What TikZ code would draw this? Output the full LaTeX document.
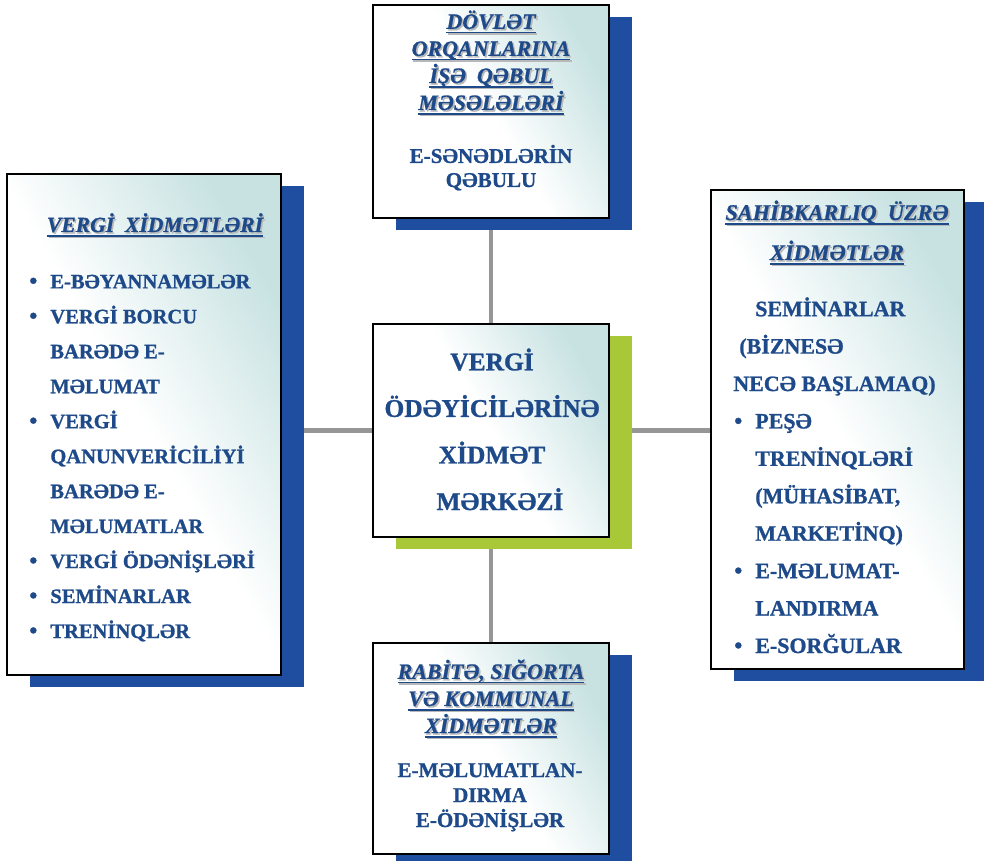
\documentclass[tikz,border=0pt]{standalone}
\usepackage{fontspec}
\setmainfont{Liberation Serif}[BoldFeatures={FakeBold=1}, BoldItalicFeatures={FakeBold=1}]
\usetikzlibrary{shadows,backgrounds}
\definecolor{txtblue}{RGB}{30,74,138}
\definecolor{shadowblue}{RGB}{31,78,160}
\definecolor{shadowgreen}{RGB}{168,200,56}
\definecolor{boxteal}{RGB}{200,226,226}
\definecolor{linkgray}{RGB}{150,150,150}
\newcommand{\ulin}[1]{\setbox0=\hbox{#1}%
  \rlap{\kern0.9pt\raisebox{-0.9pt}{\color{black!28}\rlap{\rule[-2.6pt]{\wd0}{0.9pt}}\copy0}}%
  \rlap{\rule[-2.6pt]{\wd0}{0.9pt}}\box0}
\newcommand{\blt}{\llap{{\fontsize{13}{13}\selectfont\textbullet}\hspace{7.4pt}}}
\tikzset{
  svcbox/.style={draw=black, line width=1.2pt, inner sep=0pt,
    top color=boxteal, bottom color=white, middle color=white, shading angle=-60,
    drop shadow={shadow xshift=0.46cm, shadow yshift=-0.24cm, fill=#1, opacity=1}},
  svcbox/.default=shadowblue,
  ttl/.style 2 args={text=txtblue, align=center, inner sep=0pt, font=\bfseries\itshape\fontsize{#1}{#2}\selectfont},
  txt/.style 2 args={text=txtblue, inner sep=0pt, font=\bfseries\fontsize{#1}{#2}\selectfont},
  link/.style={draw=linkgray, line width=2.3pt}
}
\begin{document}
\begin{tikzpicture}[x=0.02cm, y=-0.02cm]
  \useasboundingbox (0,0) rectangle (984,861);
  \node [svcbox, minimum width=4.72cm, minimum height=4.26cm] (dovlet) at (491,111.5) {};
  \node [svcbox, minimum width=5.48cm, minimum height=10.02cm] (vergi) at (144,424.5) {};
  \node [svcbox, minimum width=5.06cm, minimum height=9.58cm] (sahib) at (837.5,429.5) {};
  \node [svcbox=shadowgreen, minimum width=4.72cm, minimum height=4.26cm] (merkez) at (491,430.5) {};
  \node [svcbox, minimum width=4.72cm, minimum height=4.22cm] (rabite) at (491,748.5) {};

  \node [ttl={12.5}{15.4}, anchor=base] (dovlet-t) at (491,110) {\ulin{DÖVLƏT}\\\ulin{ORQANLARINA}\\\ulin{İŞƏ\ \ QƏBUL}\\\ulin{MƏSƏLƏLƏRİ}};
  \node [txt={12}{13.7}, align=center, anchor=base] (dovlet-b) at (491,187) {E-SƏNƏDLƏRİN\\QƏBULU};

  \node [ttl={12.3}{15}, anchor=base] (vergi-t) at (155,232) {\ulin{VERGİ\ \ XİDMƏTLƏRİ}};
  \node [txt={11.7}{19.9}, align=left, anchor=base west] (vergi-b) at (50,638) {\blt E-BƏYANNAMƏLƏR\\\blt VERGİ BORCU\\BARƏDƏ E-\\MƏLUMAT\\\blt VERGİ\\QANUNVERİCİLİYİ\\BARƏDƏ E-\\MƏLUMATLAR\\\blt VERGİ ÖDƏNİŞLƏRİ\\\blt SEMİNARLAR\\\blt TRENİNQLƏR};

  \node [ttl={12.7}{22.8}, anchor=base] (sahib-t) at (837,260) {\ulin{SAHİBKARLIQ\ \ ÜZRƏ}\\\ulin{XİDMƏTLƏR}};
  \node [txt={12.5}{21.3}, align=left, anchor=base west] (sahib-b) at (733,653) {\hspace*{12.5pt}SEMİNARLAR\\\hspace*{3.4pt}(BİZNESƏ\\NECƏ BAŞLAMAQ)\\\hspace*{12.5pt}\blt PEŞƏ\\\hspace*{12.5pt}TRENİNQLƏRİ\\\hspace*{12.5pt}(MÜHASİBAT,\\\hspace*{12.5pt}MARKETİNQ)\\\hspace*{12.5pt}\blt E-MƏLUMAT-\\\hspace*{12.5pt}LANDIRMA\\\hspace*{12.5pt}\blt E-SORĞULAR};

  \node [txt={14.5}{26.5}, align=center, anchor=base] (merkez-t) at (492,510) {VERGİ\\ÖDƏYİCİLƏRİNƏ\\XİDMƏT\\\hspace*{9pt}MƏRKƏZİ};

  \node [ttl={12.5}{15.4}, anchor=base] (rabite-t) at (491,733) {\ulin{RABİTƏ, SIĞORTA}\\\ulin{VƏ KOMMUNAL}\\\ulin{XİDMƏTLƏR}};
  \node [txt={12}{14.2}, align=center, anchor=base] (rabite-b) at (490,827) {E-MƏLUMATLAN-\\DIRMA\\E-ÖDƏNİŞLƏR};

  \begin{scope}[on background layer]
    \draw [link] (merkez.north) -- (dovlet.south);
    \draw [link] (merkez.south) -- (rabite.north);
    \draw [link] (merkez.west) -- (merkez.west -| vergi.east);
    \draw [link] (merkez.east) -- (merkez.east -| sahib.west);
  \end{scope}
\end{tikzpicture}
\end{document}
